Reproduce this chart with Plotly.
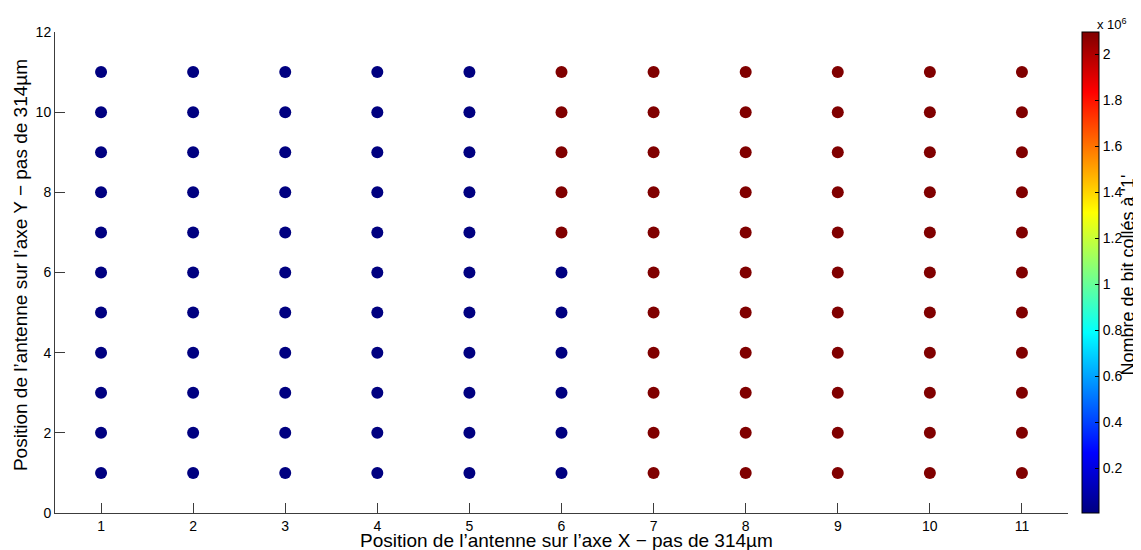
import plotly.graph_objects as go

# Grid positions
x_pos = [1, 2, 3, 4, 5, 6, 7, 8, 9, 10, 11]
y_pos = [1, 2, 3, 4, 5, 6, 7, 8, 9, 10, 11]

LOW = 5000
HIGH = 2097152
# values per column (x = 1..11), each list indexed by y = 1..11
col_values = [
    [LOW] * 11,
    [LOW] * 11,
    [LOW] * 11,
    [LOW] * 11,
    [LOW] * 11,
    [LOW] * 6 + [HIGH] * 5,
    [HIGH] * 11,
    [HIGH] * 11,
    [HIGH] * 11,
    [HIGH] * 11,
    [HIGH] * 11,
]

y_ticks = [0, 2, 4, 6, 8, 10, 12]
cbar_tickvals = [0.2e6, 0.4e6, 0.6e6, 0.8e6, 1.0e6, 1.2e6, 1.4e6, 1.6e6, 1.8e6, 2.0e6]
cbar_ticktext = ["0.2", "0.4", "0.6", "0.8", "1", "1.2", "1.4", "1.6", "1.8", "2"]

xs, ys, zs = [], [], []
for xi, col in zip(x_pos, col_values):
    for yi, v in zip(y_pos, col):
        xs.append(xi)
        ys.append(yi)
        zs.append(v)

jet = [
    [0.0, "rgb(0,0,128)"],
    [0.125, "rgb(0,0,255)"],
    [0.375, "rgb(0,255,255)"],
    [0.625, "rgb(255,255,0)"],
    [0.875, "rgb(255,0,0)"],
    [1.0, "rgb(128,0,0)"],
]

font = "Liberation Sans, Arial, Helvetica, sans-serif"
axcol = "rgb(60,60,60)"

fig = go.Figure(
    go.Scatter(
        x=xs, y=ys, mode="markers",
        marker=dict(
            size=12, color=zs, colorscale=jet, cmin=min(zs), cmax=max(zs),
            line=dict(width=0),
            colorbar=dict(
                x=1.0138, xanchor="left", xpad=0, y=0, yanchor="bottom", len=1, ypad=0,
                thickness=17, outlinecolor="black", outlinewidth=1,
                tickvals=cbar_tickvals, ticktext=cbar_ticktext,
                ticks="inside", ticklen=4, tickcolor="black",
                tickfont=dict(size=14, color="black", family=font),
            ),
        ),
        showlegend=False,
    )
)

fig.add_annotation(
    x=1.0138, xref="paper", y=1.0, yref="paper", xanchor="left", yanchor="bottom",
    text="x 10<sup>6</sup>", showarrow=False, xshift=13, yshift=-2,
    font=dict(size=13, color="black", family=font),
)
fig.add_annotation(
    x=1.0588, xref="paper", y=0.495, yref="paper", xanchor="center", yanchor="middle",
    text="Nombre de bit collés à '1'", showarrow=False, textangle=-90,
    font=dict(size=18, color="black", family=font),
)
fig.add_annotation(
    x=-0.0335, xref="paper", y=0.5156, yref="paper", xanchor="center", yanchor="middle",
    text="Position de l’antenne sur l’axe Y − pas de 314µm", showarrow=False, textangle=-90,
    font=dict(size=19, color="black", family=font),
)
fig.add_annotation(
    x=0.5054, xref="paper", y=-0.058, yref="paper", xanchor="center", yanchor="middle",
    text="Position de l’antenne sur l’axe X − pas de 314µm", showarrow=False,
    font=dict(size=19, color="black", family=font),
)

# The page body adds an 8px offset; size the figure to compensate.
fig.update_layout(
    width=1133, height=542,
    margin=dict(l=47, r=73, t=24, b=37, autoexpand=False),
    plot_bgcolor="white", paper_bgcolor="white",
    font=dict(family=font, color="black"),
    xaxis=dict(
        range=[0.5, 11.5], tickvals=x_pos, ticks="inside", ticklen=10, tickcolor=axcol,
        showline=True, linecolor=axcol, linewidth=1, showgrid=False, zeroline=False,
        tickfont=dict(size=14, color="black"), automargin=False,
    ),
    yaxis=dict(
        range=[0, 12], tickvals=y_ticks, ticks="inside", ticklen=10, tickcolor=axcol,
        showline=True, linecolor=axcol, linewidth=1, showgrid=False, zeroline=False,
        tickfont=dict(size=14, color="black"), automargin=False,
    ),
)

fig.write_html("out.html")
